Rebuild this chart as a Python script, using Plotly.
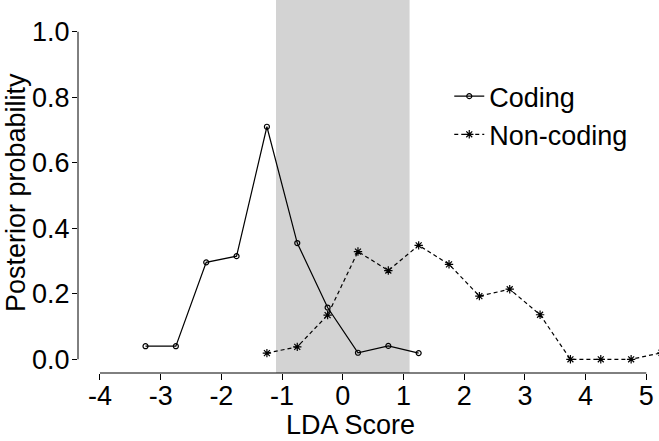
import plotly.graph_objects as go

# ---- data ----
coding_x = [-3.25, -2.75, -2.25, -1.75, -1.25, -0.75, -0.25, 0.25, 0.75, 1.25]
coding_y = [0.040, 0.040, 0.296, 0.315, 0.710, 0.355, 0.158, 0.020, 0.041, 0.019]

noncoding_x = [-1.25, -0.75, -0.25, 0.25, 0.75, 1.25, 1.75, 2.25, 2.75, 3.25, 3.75, 4.25, 4.75, 5.25]
noncoding_y = [0.019, 0.038, 0.135, 0.329, 0.271, 0.348, 0.290, 0.193, 0.214, 0.136, 0.0, 0.0, 0.0, 0.020]

x_tickvals = [-4, -3, -2, -1, 0, 1, 2, 3, 4, 5]
x_ticktext = ["-4", "-3", "-2", "-1", "0", "1", "2", "3", "4", "5"]
y_tickvals = [0.0, 0.2, 0.4, 0.6, 0.8, 1.0]
y_ticktext = ["0.0", "0.2", "0.4", "0.6", "0.8", "1.0"]

band = (-1.1, 1.1)

FONT = "Liberation Sans, Arial, Helvetica, sans-serif"

fig = go.Figure()

fig.add_trace(go.Scatter(
    x=coding_x, y=coding_y, name="Coding", mode="lines+markers",
    line=dict(color="black", width=1.2),
    marker=dict(symbol="circle-open", size=5, color="black", line=dict(width=1.2, color="black")),
))
fig.add_trace(go.Scatter(
    x=noncoding_x, y=noncoding_y, name="Non-coding", mode="lines+markers",
    line=dict(color="black", width=1.2, dash="4px,3px"),
    marker=dict(symbol="asterisk-open", size=7, color="black", line=dict(width=1.2, color="black")),
))

fig.add_shape(type="rect", xref="x", yref="paper", x0=band[0], x1=band[1], y0=0, y1=1,
              fillcolor="#d3d3d3", line=dict(width=0), layer="below")
# detached axis lines (R style)
fig.add_shape(type="line", xref="paper", yref="y", x0=0, x1=0, y0=y_tickvals[0], y1=y_tickvals[-1],
              line=dict(color="black", width=1))
fig.add_shape(type="line", xref="x", yref="paper", x0=x_tickvals[0], x1=x_tickvals[-1], y0=0, y1=0,
              line=dict(color="black", width=1))

fig.update_layout(
    width=659, height=441,
    margin=dict(l=78, r=0, t=0, b=68, autoexpand=False),
    paper_bgcolor="white", plot_bgcolor="white",
    font=dict(family=FONT, size=27, color="black"),
    showlegend=True,
    legend=dict(x=0.639, y=0.69, xanchor="left", yanchor="middle",
                bgcolor="rgba(0,0,0,0)", font=dict(size=27), tracegroupgap=0,
                itemwidth=30),
    xaxis=dict(range=[-4.362, 5.209], tickvals=x_tickvals, ticktext=x_ticktext,
               ticks="outside", ticklen=6, tickcolor="black", tickwidth=1,
               ticklabelstandoff=-7,
               showgrid=False, zeroline=False, showline=False, automargin=False,
               tickfont=dict(size=27)),
    yaxis=dict(range=[-0.0418, 1.097], tickvals=y_tickvals, ticktext=y_ticktext,
               ticks="outside", ticklen=5, tickcolor="black", tickwidth=1,
               ticklabelstandoff=-3,
               showgrid=False, zeroline=False, showline=False, automargin=False,
               tickfont=dict(size=27)),
    annotations=[
        dict(text="LDA Score", xref="x", yref="paper", x=0.119, y=-0.139,
             xanchor="center", yanchor="middle", showarrow=False, font=dict(size=27)),
        dict(text="Posterior probability", xref="paper", yref="paper", x=-0.1067, y=0.4826,
             xanchor="center", yanchor="middle", textangle=-90, showarrow=False, font=dict(size=27)),
    ],
)

fig.write_html("out.html", config={"displayModeBar": False},
               post_script="document.body.style.margin='0';document.body.style.overflow='hidden';")
